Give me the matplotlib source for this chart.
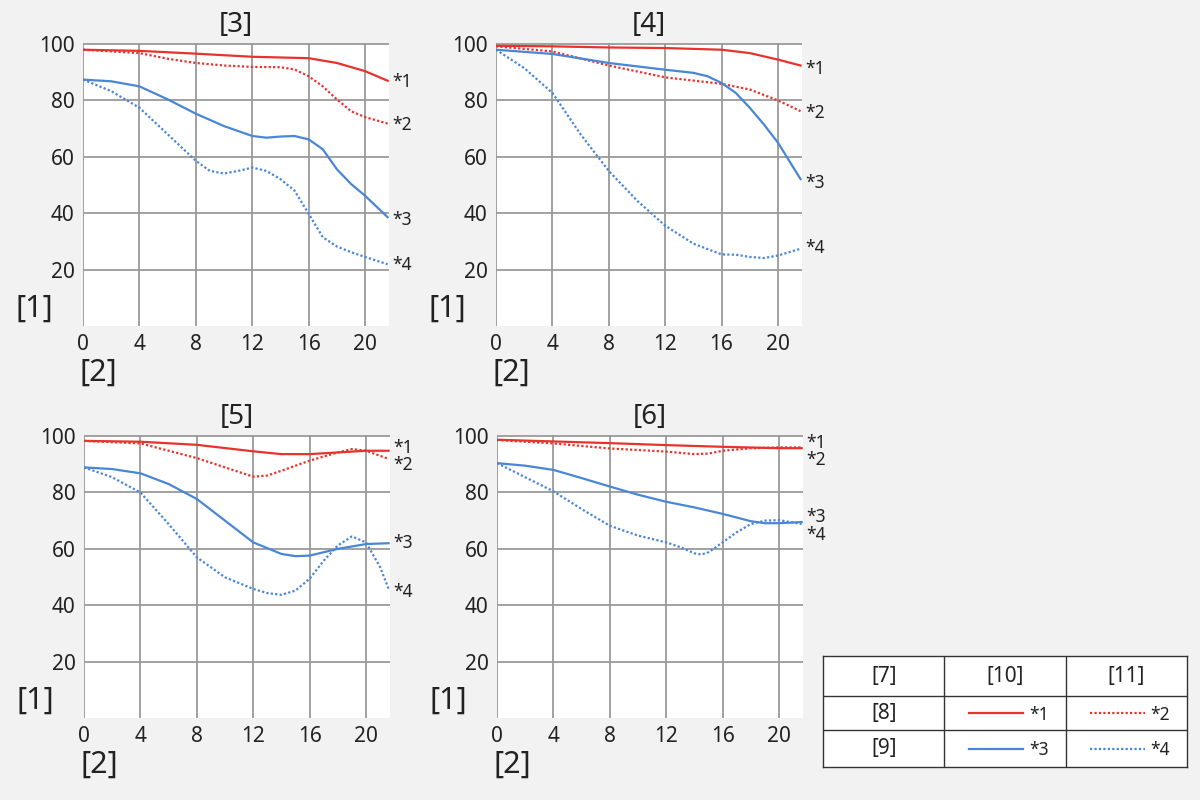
import matplotlib
matplotlib.use("Agg")
import matplotlib.pyplot as plt

plt.rcParams['font.family'] = ['Noto Sans', 'DejaVu Sans']

RED = '#e8322c'
BLUE = '#4a86d6'
GRID = '#9a9a9a'
BG = '#f2f2f2'
TXT = '#222222'

panel_titles = ['[3]', '[4]', '[5]', '[6]']

# panel [3]
x3_1 = [0, 4, 8, 12, 16, 18, 20, 21.6]
y3_1 = [98, 97.6, 96.6, 95.5, 95, 93.3, 90.4, 87]
x3_2 = [0, 4, 6, 8, 10, 12, 14, 15, 16, 17, 18, 19, 20, 21.6]
y3_2 = [98, 96.8, 94.8, 93.3, 92.4, 91.9, 91.8, 91, 88.6, 85, 80.4, 76.2, 74.1, 71.8]
x3_3 = [0, 2, 4, 6, 8, 10, 12, 13, 14, 15, 16, 17, 18, 19, 20, 21.6]
y3_3 = [87.4, 86.8, 85, 80.4, 75.3, 70.9, 67.4, 66.8, 67.2, 67.4, 66.2, 62.7, 55.6, 50.4, 46.2, 38.6]
x3_4 = [0, 2, 4, 6, 8, 9, 10, 11, 12, 13, 14, 15, 16, 17, 18, 19, 20, 21.6]
y3_4 = [87.4, 83.3, 77.4, 68, 58.6, 55, 54.1, 55, 56.2, 55, 52.1, 48, 39.8, 31.5, 28.2, 26.2, 24.5, 21.9]

# panel [4]
x4_1 = [0, 4, 8, 12, 16, 18, 20, 21.6]
y4_1 = [99.4, 99.2, 98.8, 98.6, 98, 96.8, 94.5, 92.4]
x4_2 = [0, 4, 8, 12, 16, 18, 20, 21.6]
y4_2 = [99.2, 97.4, 92.4, 88.2, 85.9, 83.9, 80, 76.2]
x4_3 = [0, 4, 8, 12, 14, 15, 16, 17, 18, 19, 20, 21.6]
y4_3 = [98, 96.5, 93.3, 90.9, 89.8, 88.6, 86.2, 82.7, 77.4, 71.5, 65, 52.1]
x4_4 = [0, 2, 4, 6, 8, 10, 12, 14, 16, 17, 18, 19, 20, 21.6]
y4_4 = [98, 91.5, 82.7, 68, 55, 44.5, 35.6, 29.2, 25.4, 25.3, 24.5, 24.1, 25, 27.4]

# panel [5]
x5_1 = [0, 4, 8, 12, 14, 16, 18, 20, 21.6]
y5_1 = [98.3, 98, 96.9, 94.6, 93.6, 93.6, 94.2, 94.8, 94.8]
x5_2 = [0, 4, 6, 8, 10, 12, 13, 14, 16, 18, 19, 20, 21.6]
y5_2 = [98.3, 97.4, 94.8, 92.2, 88.9, 85.6, 86, 87.7, 91.3, 94.2, 95.4, 94.8, 91.9]
x5_3 = [0, 2, 4, 6, 8, 10, 12, 14, 15, 16, 18, 20, 21.6]
y5_3 = [88.9, 88.3, 86.8, 83, 77.7, 70, 62.3, 58.2, 57.4, 57.6, 60, 61.7, 62]
x5_4 = [0, 2, 4, 6, 8, 10, 12, 13, 14, 15, 16, 17, 18, 19, 20, 21, 21.6]
y5_4 = [88.9, 85.4, 80, 68.8, 57, 49.9, 45.8, 44.3, 43.7, 45.2, 49.4, 55.8, 61.2, 64.4, 62.3, 53.5, 45.8]

# panel [6]
x6_1 = [0, 4, 8, 12, 16, 20, 21.6]
y6_1 = [98.7, 98.1, 97.5, 96.8, 96.2, 95.7, 95.7]
x6_2 = [0, 4, 8, 12, 14, 15, 16, 18, 20, 21.6]
y6_2 = [98.6, 97.4, 95.6, 94.5, 93.6, 93.8, 94.8, 95.7, 96, 96]
x6_3 = [0, 2, 4, 6, 8, 10, 12, 14, 16, 18, 19, 20, 21.6]
y6_3 = [90.4, 89.5, 88, 85.1, 82.1, 79.2, 76.7, 74.7, 72.4, 69.8, 69.1, 69.1, 69.5]
x6_4 = [0, 2, 4, 6, 8, 10, 12, 13, 14, 14.5, 15, 16, 17, 18, 19, 20, 21.6]
y6_4 = [90.4, 85.4, 80.4, 74.1, 68.2, 64.7, 62.3, 60.6, 58.4, 58, 58.8, 62.3, 65.9, 68.8, 70, 70.2, 68.8]

panels = [
    [(x3_1, y3_1), (x3_2, y3_2), (x3_3, y3_3), (x3_4, y3_4)],
    [(x4_1, y4_1), (x4_2, y4_2), (x4_3, y4_3), (x4_4, y4_4)],
    [(x5_1, y5_1), (x5_2, y5_2), (x5_3, y5_3), (x5_4, y5_4)],
    [(x6_1, y6_1), (x6_2, y6_2), (x6_3, y6_3), (x6_4, y6_4)],
]

# where the *n labels sit next to the curve ends
label_y = [
    [86.5, 71.3, 37.6, 21.6],
    [91, 75.5, 50.7, 27.6],
    [95.7, 89.7, 62, 44.7],
    [97.5, 91.5, 71.3, 64.9],
]
curve_labels = ['*1', '*2', '*3', '*4']
styles = [(RED, '-'), (RED, (0, (1, 1))), (BLUE, '-'), (BLUE, (0, (1, 1)))]

fig = plt.figure(figsize=(12, 8), dpi=100, facecolor=BG)

boxes = [
    [0.0692, 0.5925, 0.255, 0.3538],
    [0.4133, 0.5925, 0.255, 0.3538],
    [0.0700, 0.1025, 0.255, 0.3538],
    [0.4142, 0.1025, 0.255, 0.3538],
]

for box, title, curves, ly in zip(boxes, panel_titles, panels, label_y):
    ax = fig.add_axes(box)
    ax.set_facecolor('white')
    for (xs, ys), (c, ls), lab, yl in zip(curves, styles, curve_labels, ly):
        ax.plot(xs, ys, color=c, linestyle=ls, lw=1.6)
        ax.text(1.01, yl, lab, transform=ax.get_yaxis_transform(),
                fontsize=12.5, color=TXT, va='center', ha='left')
    ax.set_xlim(0, 21.7)
    ax.set_ylim(0, 100.4)
    ax.set_xticks([0, 4, 8, 12, 16, 20])
    ax.set_yticks([20, 40, 60, 80, 100])
    ax.grid(True, color=GRID, lw=1.3)
    ax.set_axisbelow(True)
    for s in ax.spines.values():
        s.set_visible(False)
    ax.tick_params(length=0, labelsize=15, colors=TXT, pad=6)
    ax.set_title(title, fontsize=20, pad=8, color=TXT)
    ax.text(-0.16, 0.06, '[1]', transform=ax.transAxes, fontsize=22,
            ha='center', va='center', color=TXT)
    ax.text(0.05, -0.165, '[2]', transform=ax.transAxes, fontsize=22,
            ha='center', va='center', color=TXT)

# legend table
lg = fig.add_axes([823 / 1200, 1 - 767 / 800, 364 / 1200, 111 / 800])
lg.set_xlim(0, 3)
lg.set_ylim(0, 3.3)
lg.set_facecolor('white')
for s in lg.spines.values():
    s.set_color('#333333')
    s.set_linewidth(1)
lg.set_xticks([])
lg.set_yticks([])
for xv in [1, 2]:
    lg.axvline(xv, color='#333333', lw=1)
for yv in [1.1, 2.1]:
    lg.axhline(yv, color='#333333', lw=1)
headers = ['[7]', '[10]', '[11]']
for i, h in enumerate(headers):
    lg.text(i + 0.5, 2.7, h, ha='center', va='center', fontsize=15, color=TXT)
lg.text(0.5, 1.6, '[8]', ha='center', va='center', fontsize=15, color=TXT)
lg.text(0.5, 0.55, '[9]', ha='center', va='center', fontsize=15, color=TXT)
rows_y = [1.6, 1.6, 0.55, 0.55]
cols_x = [1, 2, 1, 2]
for (c, ls), lab, ry, cx in zip(styles, curve_labels, rows_y, cols_x):
    lg.plot([cx + 0.2, cx + 0.65], [ry, ry], color=c, linestyle=ls, lw=1.6)
    lg.text(cx + 0.7, ry - 0.05, lab, ha='left', va='center', fontsize=12.5, color=TXT)

fig.savefig('out.png', dpi=100, facecolor=BG)
